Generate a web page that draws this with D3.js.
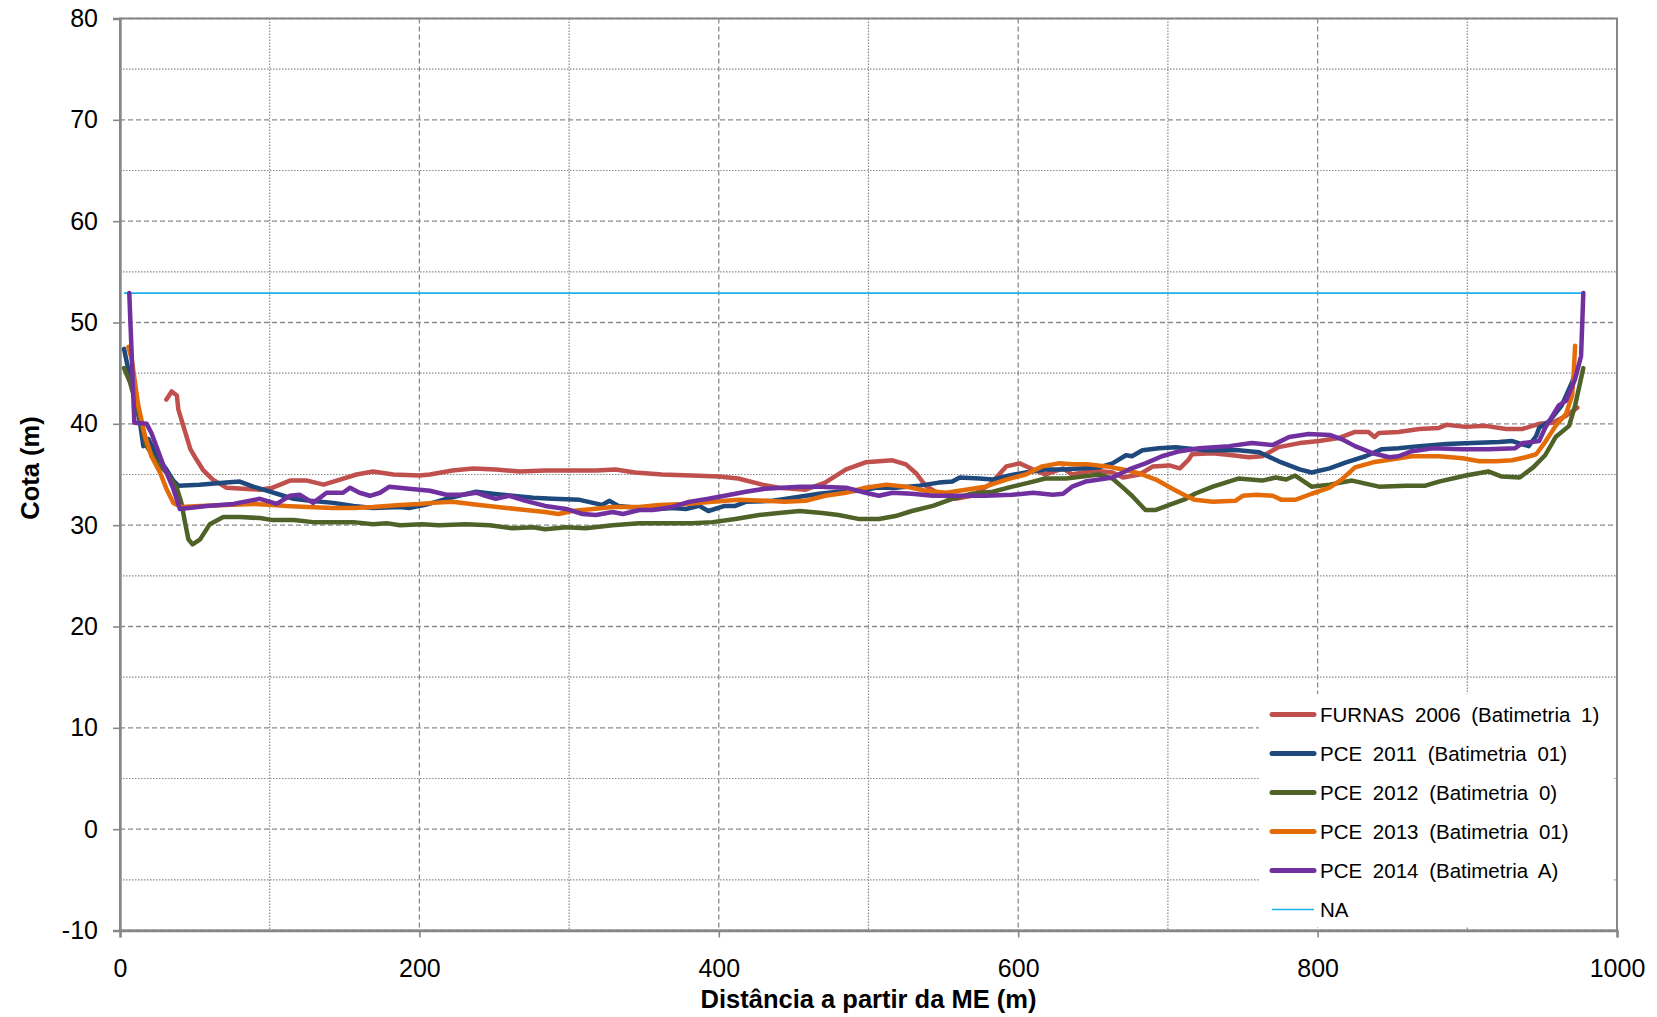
<!DOCTYPE html>
<html>
<head>
<meta charset="utf-8">
<script src="https://cdn.jsdelivr.net/npm/d3@7"></script>
<style>
  html, body { margin: 0; padding: 0; background: #fff; }
  svg { display: block; font-family: "Liberation Sans", Arial, sans-serif; }
</style>
</head>
<body>
<svg id="chart" width="1657" height="1017"></svg>
<script>
// ---- data ----
const xTicks = [0, 200, 400, 600, 800, 1000];
const xMinor = [100, 300, 500, 700, 900];
const yTicks = [-10, 0, 10, 20, 30, 40, 50, 60, 70, 80];
const yMinor = [-5, 5, 15, 25, 35, 45, 55, 65, 75];

const seriesNames = [
  "FURNAS 2006 (Batimetria 1)",
  "PCE 2011 (Batimetria 01)",
  "PCE 2012 (Batimetria 0)",
  "PCE 2013 (Batimetria 01)",
  "PCE 2014 (Batimetria A)",
  "NA"
];
const seriesColors = ["#C0504D", "#1F497D", "#4F6228", "#E36C09", "#7030A0", "#1CB0EC"];

const furnas2006 = [[31,42.4],[34.5,43.2],[38,42.8],[39,41.4],[42.3,39.8],[47,37.5],[51,36.5],[55.7,35.4],[62,34.5],[71,33.7],[82.5,33.6],[93.5,33.5],[102,33.7],[113.6,34.4],[125,34.4],[136,34.0],[147,34.5],[158,35.0],[169,35.3],[182.6,35.0],[200,34.9],[207,35.0],[222,35.4],[236,35.6],[251,35.5],[267,35.3],[284,35.4],[302,35.4],[318,35.4],[331,35.5],[344,35.2],[362,35.0],[382,34.9],[400,34.8],[413,34.6],[429,34.0],[440,33.7],[458,33.5],[471,34.2],[485,35.5],[498,36.2],[516,36.4],[525,36.0],[532,35.1],[538,33.9],[547,33.1],[558,32.6],[569,32.9],[581,34.0],[592,35.8],[601,36.1],[610,35.5],[618,35.0],[630,35.6],[636,35.0],[650,35.4],[663,35.2],[670,34.7],[681,35.0],[690,35.8],[701,35.9],[708,35.6],[714,36.5],[716,37.0],[730,37.1],[743,36.9],[754,36.7],[763,36.8],[774,37.7],[788,38.1],[801,38.3],[814,38.6],[825,39.2],[834,39.2],[838,38.7],[841,39.1],[854,39.2],[868,39.5],[881,39.6],[886,39.9],[899,39.7],[912,39.8],[926,39.5],[937,39.5],[948,40.0],[957,40.1],[966,40.8],[973.5,41.6]];

const pce2011 = [[2.7,47.4],[4.5,46.1],[8.9,43.1],[13.4,40.1],[15.6,37.8],[19,38.5],[24.5,36.8],[31,35.5],[35.6,34.4],[39,33.9],[53,34.0],[71,34.2],[80,34.3],[89,33.8],[98,33.4],[107,33.0],[116,32.6],[127,32.4],[142.5,32.2],[156,31.9],[169,31.7],[187,31.8],[193,31.7],[204,32.0],[218,32.6],[229,33.0],[238,33.3],[249,33.1],[262,32.9],[276,32.7],[289,32.6],[307,32.5],[316,32.2],[322,32.0],[327,32.4],[333,31.9],[347,31.7],[360,31.6],[369,31.7],[378,31.6],[387,31.9],[393,31.4],[404,31.9],[411,31.9],[418,32.3],[436,32.4],[454,32.8],[467,33.1],[480,33.3],[494,33.4],[505,33.7],[518,33.7],[534,33.9],[547,34.2],[556,34.3],[561,34.7],[574,34.6],[583,34.5],[594,34.9],[605,35.2],[618,35.5],[630,35.5],[641,35.6],[654,35.7],[663,36.1],[672,36.9],[676,36.8],[683,37.4],[694,37.6],[705,37.7],[725,37.4],[747,37.4],[761,37.2],[774,36.3],[788,35.5],[796,35.2],[808,35.6],[819,36.2],[832,36.8],[843,37.5],[854,37.6],[868,37.8],[886,38.0],[903,38.1],[921,38.2],[930,38.3],[941,37.8],[946,38.8],[948,39.6],[955,40.3],[963,41.8],[970,44.1],[973,45.5]];

const pce2012 = [[2.7,45.5],[6.7,44.1],[13.4,40.5],[17.8,37.8],[24.5,36.2],[31,35.2],[37.9,33.7],[41,32.2],[43.4,30.3],[45.7,28.6],[48.5,28.1],[53.5,28.6],[60,30.1],[69,30.8],[80,30.8],[93.5,30.7],[102,30.5],[116,30.5],[129,30.3],[142.5,30.3],[156,30.3],[169,30.1],[178,30.2],[187,30.0],[202,30.1],[213,30.0],[231,30.1],[247,30.0],[262,29.7],[276,29.8],[284,29.6],[298,29.8],[311,29.7],[329,30.0],[347,30.2],[364,30.2],[382,30.2],[396,30.3],[411,30.6],[427,31.0],[440,31.2],[454,31.4],[469,31.2],[480,31.0],[494,30.6],[507,30.6],[518,30.9],[529,31.4],[543,31.9],[556,32.6],[569,33.1],[583,33.3],[596,33.8],[610,34.3],[618,34.6],[632,34.6],[643,34.8],[654,35.0],[663,34.6],[670,33.7],[676,32.9],[685,31.5],[692,31.5],[701,32.0],[712,32.6],[718,33.1],[730,33.8],[747,34.6],[763,34.4],[772,34.7],[779,34.5],[785,34.9],[796,33.8],[808,34.0],[823,34.4],[841,33.8],[859,33.9],[872,33.9],[881,34.3],[899,34.9],[914,35.3],[923,34.8],[935,34.7],[944,35.7],[952,36.9],[959,38.7],[968,39.8],[972,41.8],[977.5,45.5]];

const pce2013 = [[5.6,47.6],[7.8,46.4],[12.2,41.8],[16.7,38.8],[21,36.8],[26.7,35.2],[31,33.6],[35.6,32.2],[41,31.8],[53.5,31.9],[71,32.0],[89,32.1],[102,32.0],[111,31.9],[125,31.8],[142.5,31.7],[156,31.7],[169,31.8],[187,32.0],[200,32.1],[209,32.2],[222,32.3],[240,32.0],[258,31.7],[271,31.5],[284,31.3],[293,31.1],[302,31.4],[316,31.6],[329,31.8],[347,31.8],[360,32.0],[378,32.1],[396,32.3],[413,32.5],[431,32.4],[444,32.3],[458,32.4],[471,32.9],[485,33.2],[498,33.7],[512,34.0],[525,33.8],[538,33.4],[552,33.2],[565,33.5],[578,33.8],[592,34.5],[605,35.0],[616,35.8],[627,36.1],[636,36.0],[647,36.0],[659,35.8],[670,35.5],[681,35.1],[692,34.5],[703,33.6],[712,32.9],[718,32.5],[730,32.3],[745,32.4],[750,32.9],[759,33.0],[770,32.9],[776,32.5],[785,32.5],[796,33.1],[808,33.7],[816,34.5],[825,35.7],[837,36.2],[850,36.5],[863,36.8],[881,36.8],[897,36.6],[908,36.3],[919,36.3],[930,36.4],[939,36.7],[946,37.0],[952,38.2],[959,39.8],[966,41.0],[970,42.8],[971,44.7],[972,47.7]];

const pce2014 = [[6.2,52.9],[9.6,40.1],[17.8,40.0],[21,39.1],[29,35.9],[35.6,33.6],[40,31.6],[58,31.9],[75.7,32.1],[93.5,32.6],[104.7,32.1],[113.6,32.9],[120,33.0],[129,32.2],[138,33.2],[149,33.2],[153.7,33.7],[160,33.2],[167,32.9],[173.7,33.2],[180,33.8],[193,33.6],[207,33.4],[218,33.0],[229,33.0],[238,33.2],[244,32.9],[251,32.6],[260,32.9],[271,32.4],[284,31.9],[298,31.6],[309,31.1],[318,31.0],[329,31.3],[336,31.1],[347,31.5],[356,31.5],[369,31.8],[380,32.3],[393,32.6],[404,32.9],[418,33.3],[431,33.6],[454,33.8],[467,33.8],[485,33.7],[498,33.2],[507,32.9],[516,33.2],[529,33.1],[543,32.9],[561,32.9],[578,32.9],[596,33.0],[610,33.2],[623,33.0],[630,33.1],[636,33.8],[645,34.3],[654,34.5],[663,34.7],[674,35.5],[685,36.1],[696,36.8],[708,37.3],[721,37.6],[741,37.8],[756,38.1],[770,37.9],[781,38.7],[794,39.0],[808,38.9],[816,38.5],[825,37.8],[837,37.1],[848,36.7],[854,36.8],[863,37.3],[877,37.6],[897,37.5],[914,37.5],[932,37.6],[937,38.1],[948,38.3],[952,39.6],[961,41.8],[966,42.3],[972,44.4],[976,46.7],[977.5,52.9]];

const naLevel = [[3,52.9],[977.5,52.9]];

const seriesData = [furnas2006, pce2011, pce2012, pce2013, pce2014, naLevel];
const seriesWidths = [4.5, 4.5, 4.5, 4.5, 4.5, 1.6];

// ---- layout ----
const svg = d3.select("#chart");
const L = 120, R = 1617, T = 18.5, B = 930.5;
const x = d3.scaleLinear().domain([0, 1000]).range([L, R]);
const y = d3.scaleLinear().domain([-10, 80]).range([B, T]);
const gridColor = "#8a8a8a";
const axisColor = "#878787";

const grid = svg.append("g");
grid.selectAll("line.hmin").data(yMinor).join("line")
  .attr("x1", L).attr("x2", R).attr("y1", d => y(d)).attr("y2", d => y(d))
  .attr("stroke", gridColor).attr("stroke-width", 1.2).attr("stroke-dasharray", "1.5,1.5");
grid.selectAll("line.hmaj").data(yTicks).join("line")
  .attr("x1", L).attr("x2", R).attr("y1", d => y(d)).attr("y2", d => y(d))
  .attr("stroke", gridColor).attr("stroke-width", 1.3).attr("stroke-dasharray", "5,3");
grid.selectAll("line.vmin").data(xMinor).join("line")
  .attr("y1", T).attr("y2", B).attr("x1", d => x(d)).attr("x2", d => x(d))
  .attr("stroke", gridColor).attr("stroke-width", 1.2).attr("stroke-dasharray", "1.5,1.5");
grid.selectAll("line.vmaj").data(xTicks).join("line")
  .attr("y1", T).attr("y2", B).attr("x1", d => x(d)).attr("x2", d => x(d))
  .attr("stroke", gridColor).attr("stroke-width", 1.3).attr("stroke-dasharray", "5,3");

svg.append("rect").attr("x", L).attr("y", T).attr("width", R - L).attr("height", B - T)
  .attr("fill", "none").attr("stroke", axisColor).attr("stroke-width", 2);

const fmt = d => String(d);
const yAxis = d3.axisLeft(y).tickValues(yTicks).tickSize(7).tickPadding(15).tickFormat(fmt);
const gy = svg.append("g").attr("transform", `translate(${L},0)`).call(yAxis);
const xAxis = d3.axisBottom(x).tickValues(xTicks).tickSize(7).tickPadding(22).tickFormat(fmt);
const gx = svg.append("g").attr("transform", `translate(0,${B})`).call(xAxis);
[gx, gy].forEach(g => {
  g.select(".domain").attr("stroke", axisColor).attr("stroke-width", 2.4);
  g.selectAll(".tick line").attr("stroke", axisColor).attr("stroke-width", 1.6);
  g.selectAll(".tick text").attr("fill", "#000").attr("font-size", 25)
    .attr("font-family", '"Liberation Sans", Arial, sans-serif');
});

const line = d3.line().x(d => x(d[0])).y(d => y(d[1]));
const order = [5, 0, 1, 2, 3, 4];
order.forEach(i => {
  svg.append("path").datum(seriesData[i])
    .attr("d", line)
    .attr("fill", "none")
    .attr("stroke", seriesColors[i])
    .attr("stroke-width", seriesWidths[i])
    .attr("stroke-linejoin", "round")
    .attr("stroke-linecap", "round");
});

svg.append("text").attr("x", (L + R) / 2).attr("y", 1008)
  .attr("text-anchor", "middle").attr("font-size", 25.5).attr("font-weight", "bold")
  .text("Distância a partir da ME (m)");
svg.append("text").attr("transform", "translate(39,468) rotate(-90)")
  .attr("text-anchor", "middle").attr("font-size", 25.5).attr("font-weight", "bold")
  .text("Cota (m)");

const lg = svg.append("g");
lg.append("rect").attr("x", 1259).attr("y", 694).attr("width", 355).attr("height", 233).attr("fill", "#fff");
const rowY0 = 714.5, rowStep = 39;
seriesNames.forEach((name, i) => {
  const cy = rowY0 + i * rowStep;
  lg.append("line").attr("x1", 1272).attr("x2", 1314).attr("y1", cy).attr("y2", cy)
    .attr("stroke", seriesColors[i]).attr("stroke-width", i === 5 ? 1.6 : 5)
    .attr("stroke-linecap", i === 5 ? "butt" : "round");
  lg.append("text").attr("x", 1320).attr("y", cy + 7.5)
    .attr("font-size", 20.5).attr("word-spacing", "5px").attr("fill", "#000")
    .text(name);
});
</script>
</body>
</html>
